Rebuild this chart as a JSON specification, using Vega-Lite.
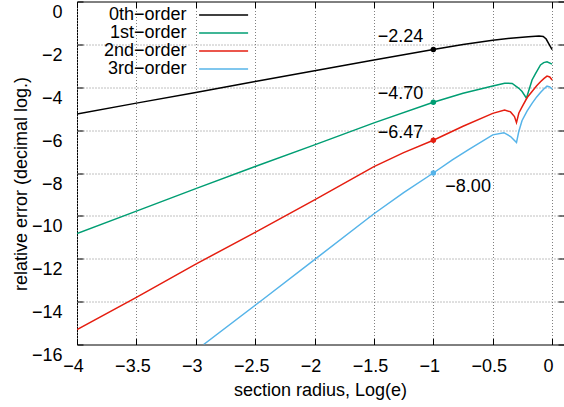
{
  "$schema": "https://vega.github.io/schema/vega-lite/v6.json",
  "width": 487,
  "height": 343,
  "autosize": {"type": "none"},
  "padding": {"left": 77, "top": 1.5, "right": 0, "bottom": 62},
  "config": {
    "font": "Liberation Sans",
    "view": {"stroke": "#000000", "strokeWidth": 1},
    "axis": {
      "domain": false,
      "grid": true,
      "gridColor": "#808080",
      "gridDash": [1, 2],
      "gridWidth": 1,
      "ticks": true,
      "tickColor": "#000000",
      "tickSize": -6,
      "tickWidth": 1,
      "labelFont": "Liberation Sans",
      "labelFontSize": 18,
      "labelColor": "#000000",
      "labelFlush": false,
      "labelOverlap": false,
      "titleFont": "Liberation Sans",
      "titleFontSize": 18,
      "titleFontWeight": "normal",
      "titleColor": "#000000",
      "format": "~g"
    }
  },
  "datasets": {
    "curves": [
      {"order": "0th−order", "x": -4, "y": -5.25},
      {"order": "0th−order", "x": -3.5, "y": -4.74},
      {"order": "0th−order", "x": -3, "y": -4.24},
      {"order": "0th−order", "x": -2.5, "y": -3.73},
      {"order": "0th−order", "x": -2, "y": -3.23},
      {"order": "0th−order", "x": -1.5, "y": -2.73},
      {"order": "0th−order", "x": -1, "y": -2.24},
      {"order": "0th−order", "x": -0.75, "y": -2.01},
      {"order": "0th−order", "x": -0.5, "y": -1.81},
      {"order": "0th−order", "x": -0.35, "y": -1.71},
      {"order": "0th−order", "x": -0.2, "y": -1.65},
      {"order": "0th−order", "x": -0.11, "y": -1.61},
      {"order": "0th−order", "x": -0.075, "y": -1.63},
      {"order": "0th−order", "x": -0.05, "y": -1.75},
      {"order": "0th−order", "x": -0.03, "y": -1.95},
      {"order": "0th−order", "x": 0, "y": -2.24},

      {"order": "1st−order", "x": -4, "y": -10.83},
      {"order": "1st−order", "x": -3.5, "y": -9.78},
      {"order": "1st−order", "x": -3, "y": -8.73},
      {"order": "1st−order", "x": -2.5, "y": -7.7},
      {"order": "1st−order", "x": -2, "y": -6.69},
      {"order": "1st−order", "x": -1.5, "y": -5.66},
      {"order": "1st−order", "x": -1, "y": -4.7},
      {"order": "1st−order", "x": -0.75, "y": -4.28},
      {"order": "1st−order", "x": -0.5, "y": -3.94},
      {"order": "1st−order", "x": -0.4, "y": -3.81},
      {"order": "1st−order", "x": -0.336, "y": -3.82},
      {"order": "1st−order", "x": -0.28, "y": -4.05},
      {"order": "1st−order", "x": -0.253, "y": -4.2},
      {"order": "1st−order", "x": -0.216, "y": -4.51},
      {"order": "1st−order", "x": -0.197, "y": -4.16},
      {"order": "1st−order", "x": -0.169, "y": -3.66},
      {"order": "1st−order", "x": -0.141, "y": -3.38},
      {"order": "1st−order", "x": -0.098, "y": -2.96},
      {"order": "1st−order", "x": -0.071, "y": -2.85},
      {"order": "1st−order", "x": -0.043, "y": -2.81},
      {"order": "1st−order", "x": 0, "y": -2.92},

      {"order": "2nd−order", "x": -4, "y": -15.3},
      {"order": "2nd−order", "x": -3.5, "y": -13.8},
      {"order": "2nd−order", "x": -3, "y": -12.25},
      {"order": "2nd−order", "x": -2.5, "y": -10.77},
      {"order": "2nd−order", "x": -2, "y": -9.25},
      {"order": "2nd−order", "x": -1.5, "y": -7.7},
      {"order": "2nd−order", "x": -1.25, "y": -7.05},
      {"order": "2nd−order", "x": -1, "y": -6.47},
      {"order": "2nd−order", "x": -0.75, "y": -5.82},
      {"order": "2nd−order", "x": -0.5, "y": -5.22},
      {"order": "2nd−order", "x": -0.4, "y": -5.06},
      {"order": "2nd−order", "x": -0.35, "y": -5.15},
      {"order": "2nd−order", "x": -0.317, "y": -5.37},
      {"order": "2nd−order", "x": -0.3, "y": -5.65},
      {"order": "2nd−order", "x": -0.28, "y": -5.2},
      {"order": "2nd−order", "x": -0.253, "y": -4.92},
      {"order": "2nd−order", "x": -0.21, "y": -4.48},
      {"order": "2nd−order", "x": -0.169, "y": -4.2},
      {"order": "2nd−order", "x": -0.13, "y": -3.93},
      {"order": "2nd−order", "x": -0.098, "y": -3.74},
      {"order": "2nd−order", "x": -0.07, "y": -3.6},
      {"order": "2nd−order", "x": -0.043, "y": -3.48},
      {"order": "2nd−order", "x": -0.02, "y": -3.52},
      {"order": "2nd−order", "x": 0, "y": -3.66},

      {"order": "3rd−order", "x": -2.934, "y": -16},
      {"order": "3rd−order", "x": -2.436, "y": -13.9},
      {"order": "3rd−order", "x": -2, "y": -12.04},
      {"order": "3rd−order", "x": -1.5, "y": -9.9},
      {"order": "3rd−order", "x": -1.25, "y": -8.92},
      {"order": "3rd−order", "x": -1, "y": -8.0},
      {"order": "3rd−order", "x": -0.84, "y": -7.39},
      {"order": "3rd−order", "x": -0.7, "y": -6.9},
      {"order": "3rd−order", "x": -0.5, "y": -6.22},
      {"order": "3rd−order", "x": -0.406, "y": -6.12},
      {"order": "3rd−order", "x": -0.35, "y": -6.3},
      {"order": "3rd−order", "x": -0.3, "y": -6.58},
      {"order": "3rd−order", "x": -0.28, "y": -6.05},
      {"order": "3rd−order", "x": -0.253, "y": -5.55},
      {"order": "3rd−order", "x": -0.21, "y": -5.1},
      {"order": "3rd−order", "x": -0.169, "y": -4.75},
      {"order": "3rd−order", "x": -0.13, "y": -4.45},
      {"order": "3rd−order", "x": -0.098, "y": -4.25},
      {"order": "3rd−order", "x": -0.07, "y": -4.08},
      {"order": "3rd−order", "x": -0.043, "y": -3.95},
      {"order": "3rd−order", "x": -0.02, "y": -3.98},
      {"order": "3rd−order", "x": 0, "y": -4.09}
    ],
    "dots": [
      {"order": "0th−order", "x": -1, "y": -2.24, "label": "−2.24"},
      {"order": "1st−order", "x": -1, "y": -4.7, "label": "−4.70"},
      {"order": "2nd−order", "x": -1, "y": -6.47, "label": "−6.47"},
      {"order": "3rd−order", "x": -1, "y": -8.0, "label": "−8.00"}
    ]
  },
  "layer": [
    {
      "data": {"name": "curves"},
      "mark": {"type": "line", "strokeWidth": 1.5, "clip": true},
      "encoding": {
        "x": {
          "field": "x", "type": "quantitative",
          "scale": {"domain": [-4, 0.1], "nice": false, "zero": false},
          "axis": {
            "orient": "bottom",
            "values": [-4, -3.5, -3, -2.5, -2, -1.5, -1, -0.5, 0],
            "title": "section radius, Log(e)",
            "labelPadding": 19,
            "labelOffset": -4,
            "labelBaseline": "top",
            "titleX": 243, "titleY": 46, "titleBaseline": "middle", "titleAlign": "center", "titleAnchor": null
          }
        },
        "y": {
          "field": "y", "type": "quantitative",
          "scale": {"domain": [-16, 0], "nice": false, "zero": false},
          "axis": {
            "orient": "left",
            "values": [-16, -14, -12, -10, -8, -6, -4, -2, 0],
            "title": "relative error (decimal log.)",
            "labelPadding": 21,
            "labelOffset": 11,
            "labelBaseline": "middle",
            "titleX": -56, "titleY": 182, "titleBaseline": "middle", "titleAlign": "center", "titleAngle": -90
          }
        },
        "color": {
          "field": "order", "type": "nominal",
          "scale": {
            "domain": ["0th−order", "1st−order", "2nd−order", "3rd−order"],
            "range": ["#000000", "#009e73", "#e51e10", "#56b4e9"]
          },
          "legend": {
            "orient": "none",
            "legendX": 137.6,
            "legendY": 4.5,
            "title": null,
            "padding": 0,
            "symbolType": "M-4,0H4",
            "symbolSize": 150,
            "symbolStrokeWidth": 1.5,
            "symbolFillColor": "transparent",
            "labelAlign": "right",
            "labelOffset": -46,
            "labelFontSize": 18,
            "labelColor": "#000000",
            "rowPadding": -1.3
          }
        }
      }
    },
    {
      "data": {"name": "dots"},
      "mark": {"type": "point", "filled": true, "size": 30, "opacity": 1},
      "encoding": {
        "x": {"field": "x", "type": "quantitative",
          "axis": {"orient": "top", "values": [-4, -3.5, -3, -2.5, -2, -1.5, -1, -0.5, 0], "labels": false, "grid": false, "title": null}},
        "y": {"field": "y", "type": "quantitative",
          "axis": {"orient": "right", "values": [-16, -14, -12, -10, -8, -6, -4, -2, 0], "labels": false, "grid": false, "title": null}},
        "color": {"field": "order", "type": "nominal", "legend": null}
      }
    },
    {
      "data": {"name": "dots"},
      "transform": [{"filter": "datum.label == '−2.24'"}],
      "mark": {"type": "text", "align": "right", "baseline": "middle", "dx": -10, "dy": -12.6, "fontSize": 18, "color": "#000000"},
      "encoding": {
        "x": {"field": "x", "type": "quantitative", "axis": null},
        "y": {"field": "y", "type": "quantitative", "axis": null},
        "text": {"field": "label"}
      }
    },
    {
      "data": {"name": "dots"},
      "transform": [{"filter": "datum.label == '−4.70'"}],
      "mark": {"type": "text", "align": "right", "baseline": "middle", "dx": -10, "dy": -8, "fontSize": 18, "color": "#000000"},
      "encoding": {
        "x": {"field": "x", "type": "quantitative", "axis": null},
        "y": {"field": "y", "type": "quantitative", "axis": null},
        "text": {"field": "label"}
      }
    },
    {
      "data": {"name": "dots"},
      "transform": [{"filter": "datum.label == '−6.47'"}],
      "mark": {"type": "text", "align": "right", "baseline": "middle", "dx": -10, "dy": -7, "fontSize": 18, "color": "#000000"},
      "encoding": {
        "x": {"field": "x", "type": "quantitative", "axis": null},
        "y": {"field": "y", "type": "quantitative", "axis": null},
        "text": {"field": "label"}
      }
    },
    {
      "data": {"name": "dots"},
      "transform": [{"filter": "datum.label == '−8.00'"}],
      "mark": {"type": "text", "align": "left", "baseline": "middle", "dx": 12, "dy": 13.5, "fontSize": 18, "color": "#000000"},
      "encoding": {
        "x": {"field": "x", "type": "quantitative", "axis": null},
        "y": {"field": "y", "type": "quantitative", "axis": null},
        "text": {"field": "label"}
      }
    }
  ]
}
